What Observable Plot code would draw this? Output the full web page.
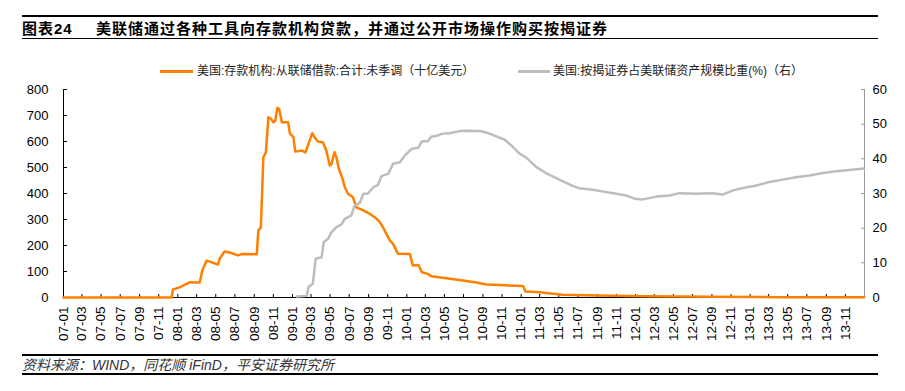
<!DOCTYPE html>
<html>
<head>
<meta charset="utf-8">
<script src="https://cdn.jsdelivr.net/npm/d3@7"></script>
<script src="https://cdn.jsdelivr.net/npm/@observablehq/plot@0.6"></script>
<style>
  html, body { margin: 0; padding: 0; background: #fff; }
  #wrap { position: relative; width: 905px; height: 391px; overflow: hidden; font-family: "Liberation Sans", "Noto Sans CJK SC", sans-serif; }
  .hr { position: absolute; left: 22px; width: 856px; background: #000; }
  .title { position: absolute; top: 21px; font-size: 15px; line-height: 15px; font-weight: bold; color: #000; letter-spacing: 1px; white-space: nowrap; }
  .leg { position: absolute; top: 65px; font-size: 12px; line-height: 12px; color: #222; white-space: nowrap; }
  .legline { position: absolute; height: 2.5px; top: 70px; }
  .foot { position: absolute; left: 22px; top: 358px; font-size: 14px; line-height: 14px; font-style: italic; color: #333; white-space: nowrap; }
  #chart { position: absolute; left: 0; top: 0; }
  #chart g[aria-label="x-axis tick label"] text { font-size: 13.5px; }
</style>
</head>
<body>
<div id="wrap">
  <div class="hr" style="top:15px;height:2px"></div>
  <div class="title" style="left:22px">图表24</div>
  <div class="title" style="left:96px">美联储通过各种工具向存款机构贷款，并通过公开市场操作购买按揭证券</div>
  <div class="hr" style="top:38px;height:1.3px"></div>
  <div id="chart"></div>
  <div class="legline" style="left:160px;width:33px;background:#FF8000"></div>
  <div class="leg" style="left:197px">美国:存款机构:从联储借款:合计:未季调（十亿美元）</div>
  <div class="legline" style="left:518px;width:32px;background:#BDBDBD"></div>
  <div class="leg" style="left:553px">美国:按揭证券占美联储资产规模比重(%)（右）</div>
  <div class="hr" style="top:354px;height:2px"></div>
  <div class="foot">资料来源：WIND，同花顺 iFinD，平安证券研究所</div>
  <div class="hr" style="top:373px;height:2px"></div>
</div>
<script>
// ---- data ----
const seriesNames = ["美国:存款机构:从联储借款:合计:未季调（十亿美元）", "美国:按揭证券占美联储资产规模比重(%)（右）"];

const borrowDates = ["2007-01-01","2007-12-12","2007-12-16","2007-12-23","2008-01-08","2008-02-09","2008-03-11","2008-03-19","2008-04-02","2008-04-12","2008-05-08","2008-05-14","2008-05-29","2008-06-15","2008-07-11","2008-07-22","2008-09-09","2008-09-14","2008-09-22","2008-09-30","2008-10-08","2008-10-16","2008-10-23","2008-11-01","2008-11-07","2008-11-14","2008-11-20","2008-11-28","2008-12-18","2008-12-24","2009-01-04","2009-01-10","2009-01-31","2009-02-11","2009-02-21","2009-03-05","2009-03-12","2009-03-23","2009-04-08","2009-04-19","2009-04-30","2009-05-05","2009-05-15","2009-05-21","2009-05-29","2009-06-10","2009-06-17","2009-06-27","2009-07-13","2009-07-24","2009-08-15","2009-09-05","2009-09-26","2009-10-07","2009-10-17","2009-11-08","2009-11-18","2009-12-04","2010-01-11","2010-01-20","2010-02-07","2010-02-18","2010-03-09","2010-03-20","2010-05-07","2010-06-29","2010-08-11","2010-09-12","2010-10-24","2011-01-07","2011-01-15","2011-03-01","2011-05-13","2011-08-28","2012-02-05","2012-09-04","2013-04-04","2013-12-31"];
const borrowValues = [0,0,30,33,40,59,58,104,142,138,127,150,177,173,162,167,166,258,269,540,557,693,689,674,680,730,723,674,674,630,617,561,565,558,591,632,617,600,597,565,508,512,559,540,495,456,424,399,386,347,335,322,303,290,270,219,206,168,167,123,125,97,91,82,74,65,58,50,48,44,23,20,11,8,5,3,1,0.5];

const mbsDates = ["2009-01-15","2009-02-16","2009-02-21","2009-03-07","2009-03-16","2009-04-04","2009-04-11","2009-04-25","2009-05-05","2009-05-21","2009-06-06","2009-06-17","2009-07-08","2009-07-18","2009-08-04","2009-08-15","2009-08-30","2009-09-16","2009-10-01","2009-10-12","2009-11-03","2009-11-18","2009-12-10","2009-12-26","2010-01-17","2010-02-07","2010-02-18","2010-03-09","2010-03-20","2010-04-10","2010-04-21","2010-05-17","2010-06-18","2010-07-20","2010-08-21","2010-09-12","2010-10-08","2010-11-10","2010-12-06","2010-12-27","2011-01-18","2011-02-19","2011-03-21","2011-05-03","2011-06-14","2011-07-06","2011-08-18","2011-09-30","2011-11-01","2011-12-03","2011-12-29","2012-01-25","2012-03-07","2012-04-19","2012-05-20","2012-07-12","2012-09-04","2012-10-06","2012-11-07","2012-12-09","2013-01-21","2013-03-03","2013-04-15","2013-05-27","2013-07-09","2013-08-21","2013-10-03","2013-11-14","2013-12-31"];
const mbsValues = [0.3,0.5,3.0,4.0,11.2,11.6,16.0,17.0,18.8,20.3,21.0,22.7,23.7,26.5,27.3,29.9,30.0,31.8,32.5,35.0,35.7,38.6,39.0,41.0,42.9,43.2,45.1,45.1,46.4,46.7,47.2,47.4,48.0,48.1,48.0,47.6,46.7,45.5,43.4,41.5,40.3,37.6,35.9,34.0,32.2,31.5,31.1,30.4,29.9,29.4,28.5,28.3,29.1,29.4,30.1,29.9,30.1,29.7,30.9,31.6,32.3,33.3,34.0,34.7,35.2,35.9,36.4,36.8,37.2];

const leftTicks = [0,100,200,300,400,500,600,700,800];
const rightTicks = [0,10,20,30,40,50,60];

// ---- chart ----
const parse = d3.utcParse("%Y-%m-%d");
const borrow = borrowDates.map((d, i) => ({date: parse(d), value: borrowValues[i]}));
const mbs = mbsDates.map((d, i) => ({date: parse(d), value: mbsValues[i]}));
const xStart = parse("2007-01-01"), xEnd = parse("2014-01-01");
const k = 800 / 60;
const monthTicks = d3.utcMonth.every(2).range(xStart, xEnd);

const chart = Plot.plot({
  width: 905, height: 391,
  marginLeft: 63, marginRight: 41, marginTop: 89, marginBottom: 94,
  style: {fontFamily: "'Liberation Sans', Arial, sans-serif", fontSize: "13px", background: "transparent", color: "#000", overflow: "visible"},
  x: {type: "utc", domain: [xStart, xEnd]},
  y: {domain: [0, 800]},
  marks: [
    Plot.axisY({anchor: "left", ticks: leftTicks, tickFormat: d => d, tickSize: -4, tickPadding: 19, label: null}),
    Plot.axisY({anchor: "right", ticks: rightTicks.map(v => v * k), tickFormat: d => Math.round(d / k), tickSize: -4, tickPadding: 12, label: null, stroke: "#999", fill: "#000"}),
    Plot.axisX({ticks: monthTicks, tickFormat: d3.utcFormat("%y-%m"), tickRotate: -90, textAnchor: "end", tickSize: -3, tickPadding: 12, label: null}),
    Plot.ruleX([xStart], {stroke: "#000", strokeWidth: 1}),
    Plot.ruleX([xEnd], {stroke: "#999", strokeWidth: 1}),
    Plot.ruleY([0], {stroke: "#000", strokeWidth: 1}),
    Plot.line(borrow, {x: "date", y: "value", stroke: "#FF8000", strokeWidth: 2.5}),
    Plot.line(mbs, {x: "date", y: d => d.value * k, stroke: "#BDBDBD", strokeWidth: 2.5})
  ]
});
document.getElementById("chart").appendChild(chart);
</script>
</body>
</html>
